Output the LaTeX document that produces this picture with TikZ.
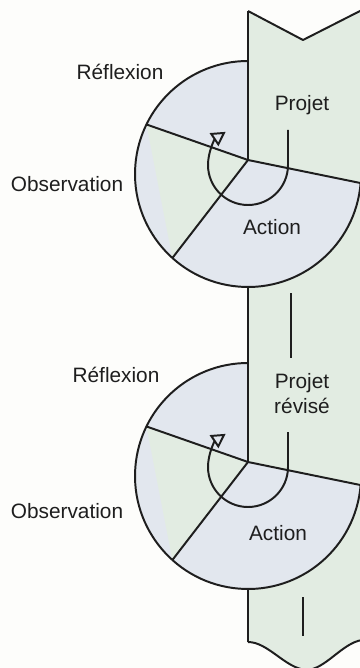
\documentclass[tikz,border=0pt]{standalone}
\usepackage{fontspec}
\setmainfont{Liberation Sans}
\usetikzlibrary{arrows.meta}

\definecolor{pagebg}{RGB}{253,253,251}
\definecolor{bandgreen}{RGB}{226,236,226}
\definecolor{sectblue}{RGB}{226,231,238}
\definecolor{inkgray}{RGB}{30,30,30}

\tikzset{
  outline/.style={line width=1.4pt, draw=inkgray, line join=round},
  cyclelbl/.style={text=inkgray, inner sep=0pt},
  turn/.style={outline, -{Triangle[open, length=10pt, width=11pt]}}
}

\begin{document}
\begin{tikzpicture}[x=0.025cm, y=-0.025cm, font=\fontsize{14.8}{17.8}\selectfont]
  \fill[pagebg] (0,0) rectangle (360,668);
  \useasboundingbox (0,0) rectangle (360,668);
  % the project band
  \coordinate (bandtl) at (248,11);
  \coordinate (bandtip) at (303,40);
  \coordinate (bandtr) at (362,10);
  \coordinate (bandbl) at (248,642);
  \coordinate (bandbot) at (306,670);
  \coordinate (bandbr) at (362,640);
  \fill[bandgreen] (bandtl) -- (bandtip) -- (bandtr) -- (bandbr)
    .. controls (342,643) and (325,670) .. (bandbot)
    .. controls (285,668) and (268,642) .. (bandbl) -- cycle;
  \draw[outline] (bandtr) -- (bandtip) -- (bandtl);
  \draw[outline] (bandbl) .. controls (268,642) and (285,668) .. (bandbot)
    .. controls (325,670) and (342,643) .. (bandbr);
  % the two cycles
  \foreach \i/\dy in {1/0, 2/302} {
    \coordinate (C\i) at (248,174+\dy);
    \coordinate (J\i) at (248,160+\dy);
    \coordinate (R\i) at ([shift={(4.6:113)}]C\i);
    \coordinate (L\i) at ([shift={(206:113)}]C\i);
    \coordinate (D\i) at ([shift={(132:113)}]C\i);
    \coordinate (T\i) at ([shift={(270:113)}]C\i);
    \coordinate (B\i) at ([shift={(90:113)}]C\i);
    \coordinate (U\i) at (288,130+\dy);
    \fill[sectblue] (J\i) -- (R\i) arc[start angle=4.6, end angle=270, radius=113] -- cycle;
    \fill[bandgreen] (L\i) -- (J\i) -- (D\i) -- cycle;
    \draw[outline] (R\i) arc[start angle=4.6, end angle=270, radius=113] -- (J\i);
    \draw[outline] (L\i) -- (J\i) -- (R\i);
    \draw[outline] (J\i) -- (D\i);
    \draw[turn] (U\i) -- ++(0,35) arc[start angle=0, end angle=236, radius=40];
  }
  % band edges between the cycles
  \draw[outline] (bandtl) -- (J1);
  \draw[outline] (B1) -- (T2);
  \draw[outline] (B2) -- (bandbl);
  % links
  \coordinate (link1a) at (291,293);
  \coordinate (link1b) at (291,358);
  \coordinate (link2a) at (303,597);
  \coordinate (link2b) at (303,636);
  \draw[outline] (link1a) -- (link1b);
  \draw[outline] (link2a) -- (link2b);
  % labels
  \node[cyclelbl] (refl1) at (120,72) {Réflexion};
  \node[cyclelbl] (proj1) at (302,105) {Projet};
  \node[cyclelbl] (obs1) at (67,184) {Observation};
  \node[cyclelbl] (act1) at (272,227) {Action};
  \node[cyclelbl] (refl2) at (116,375) {Réflexion};
  \node[cyclelbl, align=center] (proj2) at (302,394) {Projet\\révisé};
  \node[cyclelbl] (obs2) at (67,511) {Observation};
  \node[cyclelbl] (act2) at (278,533) {Action};
\end{tikzpicture}
\end{document}
